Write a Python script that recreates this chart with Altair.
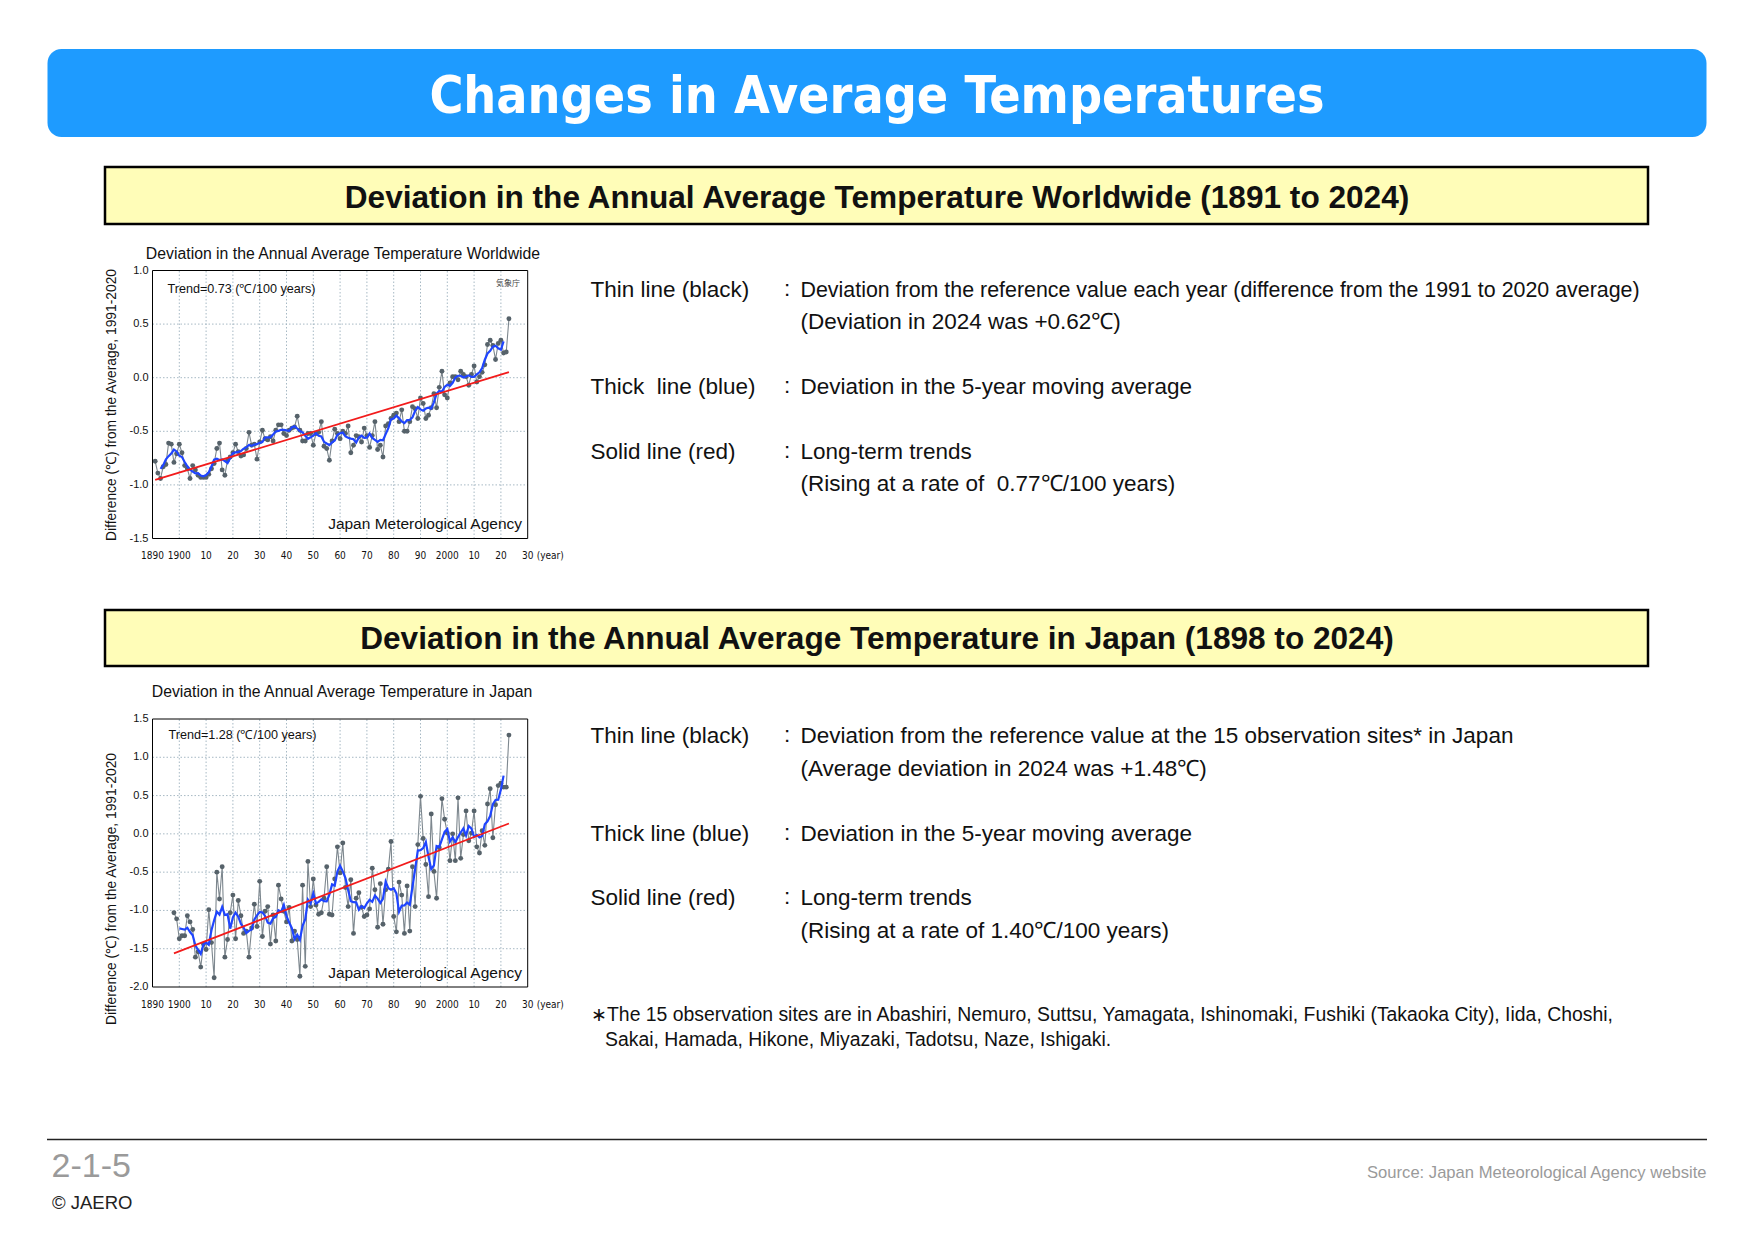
import altair as alt
import pandas as pd

OFF = 8
W, H = 1738, 1220

# ---------------- data ----------------
WORLD_START = 1891
WORLD_VALUES = [
    -0.78, -0.89, -0.94, -0.83, -0.81, -0.61, -0.62, -0.79, -0.71,          # 1891-1899
    -0.62, -0.70, -0.82, -0.85, -0.94, -0.82, -0.86, -0.91, -0.93, -0.93,    # 1900s
    -0.93, -0.90, -0.85, -0.80, -0.66, -0.61, -0.86, -0.91, -0.77, -0.74,    # 1910s
    -0.70, -0.62, -0.69, -0.73, -0.72, -0.66, -0.51, -0.63, -0.62, -0.76,    # 1920s
    -0.60, -0.49, -0.57, -0.58, -0.55, -0.59, -0.49, -0.44, -0.44, -0.52,    # 1930s
    -0.54, -0.49, -0.47, -0.46, -0.36, -0.49, -0.59, -0.59, -0.52, -0.52,    # 1940s
    -0.63, -0.52, -0.51, -0.41, -0.64, -0.66, -0.77, -0.59, -0.48, -0.52,    # 1950s
    -0.57, -0.50, -0.52, -0.45, -0.70, -0.63, -0.54, -0.55, -0.60, -0.47,    # 1960s
    -0.54, -0.65, -0.54, -0.41, -0.67, -0.63, -0.74, -0.45, -0.43, -0.38,    # 1970s
    -0.35, -0.33, -0.41, -0.30, -0.50, -0.50, -0.41, -0.27, -0.29, -0.38,    # 1980s
    -0.19, -0.24, -0.38, -0.35, -0.28, -0.15, -0.28, -0.09, 0.06, -0.16,     # 1990s
    -0.19, -0.05, 0.01, 0.01, -0.02, 0.06, 0.03, 0.01, -0.07, 0.03,          # 2000s
    0.11, -0.04, 0.01, 0.05, 0.12, 0.31, 0.35, 0.30, 0.17, 0.32,             # 2010s
    0.35, 0.23, 0.24, 0.55,                                                  # 2020-2023
]
JAPAN_START = 1898
JAPAN_VALUES = [
    -1.03, -1.11,                                                            # 1898-1899
    -1.37, -1.33, -1.33, -1.07, -1.15, -1.25, -1.61, -1.54, -1.74, -1.44,    # 1900s
    -1.51, -0.99, -1.42, -1.88, -0.50, -0.85, -0.43, -1.61, -1.38, -1.03,    # 1910s
    -0.80, -1.37, -0.87, -1.07, -1.30, -1.27, -1.61, -1.23, -0.92, -1.21,    # 1920s
    -0.62, -1.34, -1.01, -0.95, -1.44, -1.06, -1.40, -0.67, -0.85, -1.01,    # 1930s
    -1.15, -0.96, -1.40, -1.27, -1.38, -1.86, -0.67, -1.73, -0.36, -0.95,    # 1940s
    -0.59, -0.93, -1.05, -1.03, -0.84, -0.43, -1.05, -1.06, -0.59, -0.17,    # 1950s
    -0.51, -0.12, -0.70, -0.95, -0.60, -1.30, -0.84, -0.77, -0.96, -1.08,    # 1960s
    -1.06, -0.98, -0.45, -0.73, -1.22, -0.65, -1.18, -0.73, -0.46, -0.10,    # 1970s
    -1.08, -1.28, -0.63, -0.80, -1.30, -0.68, -1.27, -0.43, -0.95, -0.14,    # 1980s
    0.49, -0.06, -0.40, -0.82, 0.26, -0.49, -0.84, -0.18, 0.46, 0.19,        # 1990s
    0.01, -0.35, 0.00, -0.35, 0.47, -0.32, -0.01, 0.30, -0.09, 0.01,         # 2000s
    0.30, -0.17, -0.25, 0.04, -0.15, 0.39, 0.59, -0.05, 0.38, 0.63,          # 2010s
    0.66, 0.61, 0.61, 1.29,                                                  # 2020-2023
]
X_TICKS = [1890, 1900, 1910, 1920, 1930, 1940, 1950, 1960, 1970, 1980, 1990, 2000, 2010, 2020, 2030]
X_TICK_LABELS = ["1890", "1900", "10", "20", "30", "40", "50", "60", "70", "80", "90", "2000", "10", "20", "30"]
X_GRID = [1900, 1910, 1920, 1930, 1940, 1950, 1960, 1970, 1980, 1990, 2000, 2010, 2020]
WORLD_Y_TICKS = [1.0, 0.5, 0.0, -0.5, -1.0, -1.5]
WORLD_Y_LABELS = ["1.0", "0.5", "0.0", "-0.5", "-1.0", "-1.5"]
WORLD_Y_GRID = [0.5, 0.0, -0.5, -1.0]
JAPAN_Y_TICKS = [1.5, 1.0, 0.5, 0.0, -0.5, -1.0, -1.5, -2.0]
JAPAN_Y_LABELS = ["1.5", "1.0", "0.5", "0.0", "-0.5", "-1.0", "-1.5", "-2.0"]
JAPAN_Y_GRID = [1.0, 0.5, 0.0, -0.5, -1.0, -1.5]

# ---------------- texts ----------------
TITLE = "Changes in Average Temperatures"
HEAD_WORLD = "Deviation in the Annual Average Temperature Worldwide (1891 to 2024)"
HEAD_JAPAN = "Deviation in the Annual Average Temperature in Japan (1898 to 2024)"
CHART_TITLE_WORLD = "Deviation in the Annual Average Temperature Worldwide"
CHART_TITLE_JAPAN = "Deviation in the Annual Average Temperature in Japan"
Y_TITLE = "Difference (\u2103) from the Average, 1991-2020"
TREND_WORLD = "Trend=0.73 (\u2103/100 years)"
TREND_JAPAN = "Trend=1.28 (\u2103/100 years)"
AGENCY = "Japan Meterological Agency"
AGENCY_JA = "気象庁"
LEGEND_LABELS_1 = ["Thin line (black)", "Thick\u00a0 line (blue)", "Solid line (red)"]
LEGEND_TEXT_1 = [
    "Deviation from the reference value each year (difference from the 1991 to 2020 average)",
    "(Deviation in 2024 was +0.62\u2103)",
    "Deviation in the 5-year moving average",
    "Long-term trends",
    "(Rising at a rate of\u00a0 0.77\u2103/100 years)",
]
LEGEND_LABELS_2 = ["Thin line (black)", "Thick line (blue)", "Solid line (red)"]
LEGEND_TEXT_2 = [
    "Deviation from the reference value at the 15 observation sites* in Japan",
    "(Average deviation in 2024 was +1.48\u2103)",
    "Deviation in the 5-year moving average",
    "Long-term trends",
    "(Rising at a rate of 1.40\u2103/100 years)",
]
FOOTNOTE = [
    "\u2217The 15 observation sites are in Abashiri, Nemuro, Suttsu, Yamagata, Ishinomaki, Fushiki (Takaoka City), Iida, Choshi,",
    "Sakai, Hamada, Hikone, Miyazaki, Tadotsu, Naze, Ishigaki.",
]
PAGE_NO = "2-1-5"
COPYRIGHT = "\u00a9 JAERO"
SOURCE = "Source: Japan Meteorological Agency website"

# ---------------- style ----------------
FONT = "Liberation Sans, Arial, Helvetica, sans-serif"
COND = "'Liberation Sans Narrow', 'DejaVu Sans Condensed', 'Roboto Condensed', 'Liberation Sans', sans-serif"
INK = "#111111"
GRID = "#9db1bd"
PT = "#56626a"
LINEGRAY = "#7d878e"
BLUE = "#1f45ff"
RED = "#f21b1b"

ONE = pd.DataFrame({"k": [0]})


def txt(s, x, y, size, align="left", baseline="alphabetic", font=FONT, color=INK, **kw):
    return alt.Chart(ONE).mark_text(
        text=s, fontSize=size, align=align, baseline=baseline, font=font, color=color, **kw
    ).encode(x=alt.value(x - OFF), y=alt.value(y - OFF))


def box(x0, x1, y0, y1, **kw):
    return alt.Chart(ONE).mark_rect(**kw).encode(
        x=alt.value(x0 - OFF), x2=alt.value(x1 - OFF), y=alt.value(y0 - OFF), y2=alt.value(y1 - OFF)
    )


def panel(start, values, ydom, yticks, ylabels, ygrid, x0, x1, yt, yb, xlab_y):
    xs = alt.Scale(domain=[1890, 2030], range=[x0 - OFF, x1 - OFF], nice=False, zero=False)
    ys = alt.Scale(domain=ydom, range=[yb - OFF, yt - OFF], nice=False, zero=False)
    X = alt.X("year:Q", scale=xs, axis=None)
    Y = alt.Y("v:Q", scale=ys, axis=None)
    years = list(range(start, start + len(values)))
    series = pd.DataFrame({"year": years, "v": values})

    gx = alt.Chart(pd.DataFrame({"year": X_GRID})).mark_rule(
        color=GRID, strokeWidth=0.9, strokeDash=[1.5, 2]
    ).encode(x=X, y=alt.Y(datum=ydom[0], scale=ys, axis=None), y2=alt.Y2(datum=ydom[1]))
    gy = alt.Chart(pd.DataFrame({"v": ygrid})).mark_rule(
        color=GRID, strokeWidth=0.9, strokeDash=[1.5, 2]
    ).encode(y=Y, x=alt.X(datum=1890, scale=xs, axis=None), x2=alt.X2(datum=2030))
    frame = alt.Chart(ONE).mark_rect(fillOpacity=0, stroke="#000", strokeWidth=1).encode(
        x=alt.X(datum=1890, scale=xs, axis=None), x2=alt.X2(datum=2030),
        y=alt.Y(datum=ydom[0], scale=ys, axis=None), y2=alt.Y2(datum=ydom[1]),
    )
    base = alt.Chart(series)
    line = base.mark_line(color=LINEGRAY, strokeWidth=1.1).encode(x=X, y=Y)
    pts = base.mark_circle(color=PT, size=24, opacity=1).encode(x=X, y=Y)
    ma = base.transform_window(
        ma="mean(v)", n="count()", frame=[-2, 2], sort=[alt.SortField("year", order="ascending")]
    ).transform_filter("datum.n == 5").mark_line(color=BLUE, strokeWidth=2.2).encode(
        x=X, y=alt.Y("ma:Q", scale=ys, axis=None)
    )
    reg = base.transform_regression("year", "v").mark_line(color=RED, strokeWidth=1.8).encode(x=X, y=Y)
    xt = alt.Chart(pd.DataFrame({"year": X_TICKS, "lab": X_TICK_LABELS})).mark_text(
        font=COND, fontSize=10, baseline="middle", align="center", color=INK
    ).encode(x=X, y=alt.value(xlab_y - OFF), text="lab:N")
    yearlab = alt.Chart(pd.DataFrame({"year": [2030]})).mark_text(
        text="(year)", font=COND, fontSize=10, baseline="middle", align="left", dx=9, color=INK
    ).encode(x=X, y=alt.value(xlab_y - OFF))
    ytk = alt.Chart(pd.DataFrame({"v": yticks, "lab": ylabels})).mark_text(
        font=FONT, fontSize=11, baseline="middle", align="right", color=INK
    ).encode(x=alt.value(x0 - 4 - OFF), y=Y, text="lab:N")
    return alt.layer(gx, gy, line, pts, ma, reg, frame, xt, yearlab, ytk)


world = panel(WORLD_START, WORLD_VALUES, [-1.5, 1.0], WORLD_Y_TICKS, WORLD_Y_LABELS, WORLD_Y_GRID,
              152.5, 527.7, 270.5, 538.5, 556)
japan = panel(JAPAN_START, JAPAN_VALUES, [-2.0, 1.5], JAPAN_Y_TICKS, JAPAN_Y_LABELS, JAPAN_Y_GRID,
              152.5, 527.7, 719, 987, 1005)

layers = [
    box(47.5, 1706.5, 49, 137, color="#1e9bff", cornerRadius=14),
    box(105, 1648, 167, 224, fill="#fffdb8", stroke="#000", strokeWidth=2.5),
    box(105, 1648, 610, 666, fill="#fffdb8", stroke="#000", strokeWidth=2.5),
    alt.Chart(ONE).mark_rule(color="#222", strokeWidth=1.5).encode(
        x=alt.value(47 - OFF), x2=alt.value(1707 - OFF), y=alt.value(1139.5 - OFF)),
    txt(TITLE, 877, 113, 51.5, align="center", font=COND, color="#ffffff", fontWeight="bold"),
    txt(HEAD_WORLD, 877, 207.5, 31.6, align="center", fontWeight="bold"),
    txt(HEAD_JAPAN, 877, 649, 31.6, align="center", fontWeight="bold"),
    world,
    japan,
    txt(CHART_TITLE_WORLD, 343, 258.5, 15.8, align="center"),
    txt(CHART_TITLE_JAPAN, 342, 697, 15.8, align="center"),
    txt(Y_TITLE, 112, 405, 13.8, align="center", baseline="middle", angle=270),
    txt(Y_TITLE, 112, 889, 13.8, align="center", baseline="middle", angle=270),
    txt(TREND_WORLD, 167.5, 293, 12.6),
    txt(TREND_JAPAN, 168.5, 739, 12.6),
    txt(AGENCY_JA, 496, 286, 8, font="Noto Sans CJK JP", color="#444"),
    txt(AGENCY, 522, 529, 15.5, align="right"),
    txt(AGENCY, 522, 977.5, 15.5, align="right"),
]

COL1_X, COLON_X, COL2_X = 590.5, 784, 800.5
rows1 = [296.7, 394, 459]
rows1_text = [296.7, 329, 394, 459, 491.4]
rows2 = [743, 840.5, 905.4]
rows2_text = [743, 775.6, 840.5, 905.4, 938]
for lab, y in zip(LEGEND_LABELS_1, rows1):
    layers.append(txt(lab, COL1_X, y, 22.5))
    layers.append(txt(":", COLON_X, y - 1, 22.5))
for i, (s, y) in enumerate(zip(LEGEND_TEXT_1, rows1_text)):
    layers.append(txt(s, COL2_X, y, 21.4 if i == 0 else 22.5))
for lab, y in zip(LEGEND_LABELS_2, rows2):
    layers.append(txt(lab, COL1_X, y, 22.5))
    layers.append(txt(":", COLON_X, y - 1, 22.5))
for s, y in zip(LEGEND_TEXT_2, rows2_text):
    layers.append(txt(s, COL2_X, y, 22.5))
layers.append(txt(FOOTNOTE[0], 591, 1020.5, 19.4))
layers.append(txt(FOOTNOTE[1], 605, 1046, 19.4))
layers.append(txt(PAGE_NO, 51.5, 1177, 34, color="#9a9a9a"))
layers.append(txt(COPYRIGHT, 52, 1209, 18.5, color="#222"))
layers.append(txt(SOURCE, 1706.5, 1177.5, 16.6, align="right", color="#9a9a9a"))

chart = alt.layer(*layers).resolve_scale(x="independent", y="independent").properties(
    width=W, height=H, autosize=alt.AutoSizeParams(type="none"), padding=0, background="white"
).configure_view(strokeWidth=0, stroke=None)

chart.save("out.html", embed_options={"renderer": "svg", "actions": False})
